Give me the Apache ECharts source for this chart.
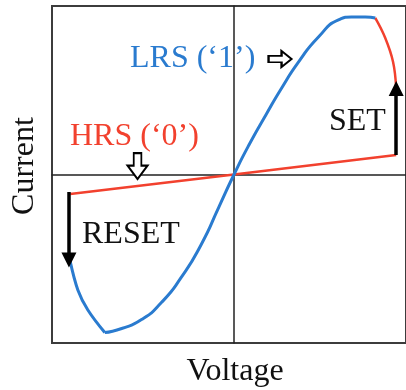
<!DOCTYPE html>
<html>
<head>
<meta charset="utf-8">
<script src="https://cdn.jsdelivr.net/npm/echarts@6/dist/echarts.min.js"></script>
<style>html,body{margin:0;padding:0;background:#fff;}#c{width:406px;height:390px;}</style>
</head>
<body>
<div id="c"></div>
<script>
// HRS ('0') branch (red, straight)
const hrsV = [-0.9, 0, 0.891];
const hrsI = [-0.116, 0, 0.116];
// SET transition (red curve)
const setV = [0.891, 0.874, 0.831, 0.776];
const setI = [0.514, 0.668, 0.810, 0.929];
// LRS ('1') branch (blue): from end of SET down to the current minimum
const lrsV = [0.776, 0.721, 0.645, 0.574, 0.464, 0.355, 0.262, 0.175, 0.082, 0, -0.082, -0.180, -0.290, -0.399, -0.508, -0.617, -0.710];
const lrsI = [0.929, 0.935, 0.935, 0.917, 0.816, 0.668, 0.513, 0.353, 0.175, 0, -0.190, -0.415, -0.611, -0.760, -0.861, -0.914, -0.938];
// LRS branch tail: from the minimum up to the RESET point
const lrsTailV = [-0.710, -0.803, -0.858, -0.902];
const lrsTailI = [-0.938, -0.804, -0.685, -0.507];
// solid arrows [fromV, fromI, toV, toI]
const setArrow = [0.891, 0.116, 0.891, 0.51];
const resetArrow = [-0.907, -0.104, -0.907, -0.507];
// hollow marker arrows [V, I]
const lrsMarker = [0.253, 0.685];
const hrsMarker = [-0.530, 0.050];

const pts = (v, i) => v.map((x, k) => [x, i[k]]);
const SERIF = '"Liberation Serif","Times New Roman",serif';
const BLUE = '#2a7bcf';
const RED = '#f2412e';

const chart = echarts.init(document.getElementById('c'));
chart.setOption({
  animation: false,
  grid: {left: 52, top: 6, right: -3, bottom: 47, show: true, borderColor: '#3c3c3c', borderWidth: 2, backgroundColor: 'transparent'},
  xAxis: {type: 'value', min: -1, max: 0.945,
    axisLine: {onZero: true, lineStyle: {color: '#222', width: 1.5}},
    axisTick: {show: false}, axisLabel: {show: false}, splitLine: {show: false}},
  yAxis: {type: 'value', min: -1, max: 1,
    axisLine: {onZero: true, lineStyle: {color: '#222', width: 1.5}},
    axisTick: {show: false}, axisLabel: {show: false}, splitLine: {show: false}},
  series: [
    {type: 'line', name: 'HRS', data: pts(hrsV, hrsI), symbol: 'none', lineStyle: {color: RED, width: 2.5}, z: 3},
    {type: 'line', name: 'SET', data: pts(setV, setI), symbol: 'none', smooth: 0.4, lineStyle: {color: RED, width: 2.5}, z: 3},
    {type: 'line', name: 'LRS', data: pts(lrsV, lrsI), symbol: 'none', smooth: 0.6, lineStyle: {color: BLUE, width: 3}, z: 4},
    {type: 'line', name: 'LRS tail', data: pts(lrsTailV, lrsTailI), symbol: 'none', smooth: 0.35, lineStyle: {color: BLUE, width: 3}, z: 4},
    {type: 'lines', coordinateSystem: 'cartesian2d', z: 5,
      symbol: ['none', 'triangle'], symbolSize: [11, 15],
      lineStyle: {color: '#000', width: 3.5, opacity: 1},
      data: [
        {coords: [[setArrow[0], setArrow[1]], [setArrow[2], setArrow[3]]]},
        {coords: [[resetArrow[0], resetArrow[1]], [resetArrow[2], resetArrow[3]]]}
      ]},
    {type: 'scatter', z: 6, silent: true,
      itemStyle: {color: '#fff', borderColor: '#000', borderWidth: 2, opacity: 1},
      data: [
        {value: lrsMarker, symbol: 'path://M0,4.5 L13,4.5 L13,0 L23,7.5 L13,15 L13,10.5 L0,10.5 Z', symbolSize: [23, 16]},
        {value: hrsMarker, symbol: 'path://M6.5,0 L14.5,0 L14.5,13 L21,13 L10.5,27 L0,13 L6.5,13 Z', symbolSize: [20, 26]}
      ]}
  ],
  graphic: [
    {type: 'text', x: 130, y: 59, style: {text: 'LRS (\u20181\u2019)', font: '32px ' + SERIF, fill: BLUE, align: 'left', verticalAlign: 'middle'}},
    {type: 'text', x: 70, y: 137, style: {text: 'HRS (\u20180\u2019)', font: '32px ' + SERIF, fill: RED, align: 'left', verticalAlign: 'middle'}},
    {type: 'text', x: 329, y: 122, style: {text: 'SET', font: '32px ' + SERIF, fill: '#111', align: 'left', verticalAlign: 'middle'}},
    {type: 'text', x: 82, y: 235, style: {text: 'RESET', font: '32px ' + SERIF, fill: '#111', align: 'left', verticalAlign: 'middle'}},
    {type: 'text', x: 235, y: 372, style: {text: 'Voltage', font: '32px ' + SERIF, fill: '#111', align: 'center', verticalAlign: 'middle'}},
    {type: 'text', x: 25, y: 166, rotation: Math.PI / 2, style: {text: 'Current', font: '32px ' + SERIF, fill: '#111', align: 'center', verticalAlign: 'middle'}}
  ]
});
</script>
</body>
</html>
